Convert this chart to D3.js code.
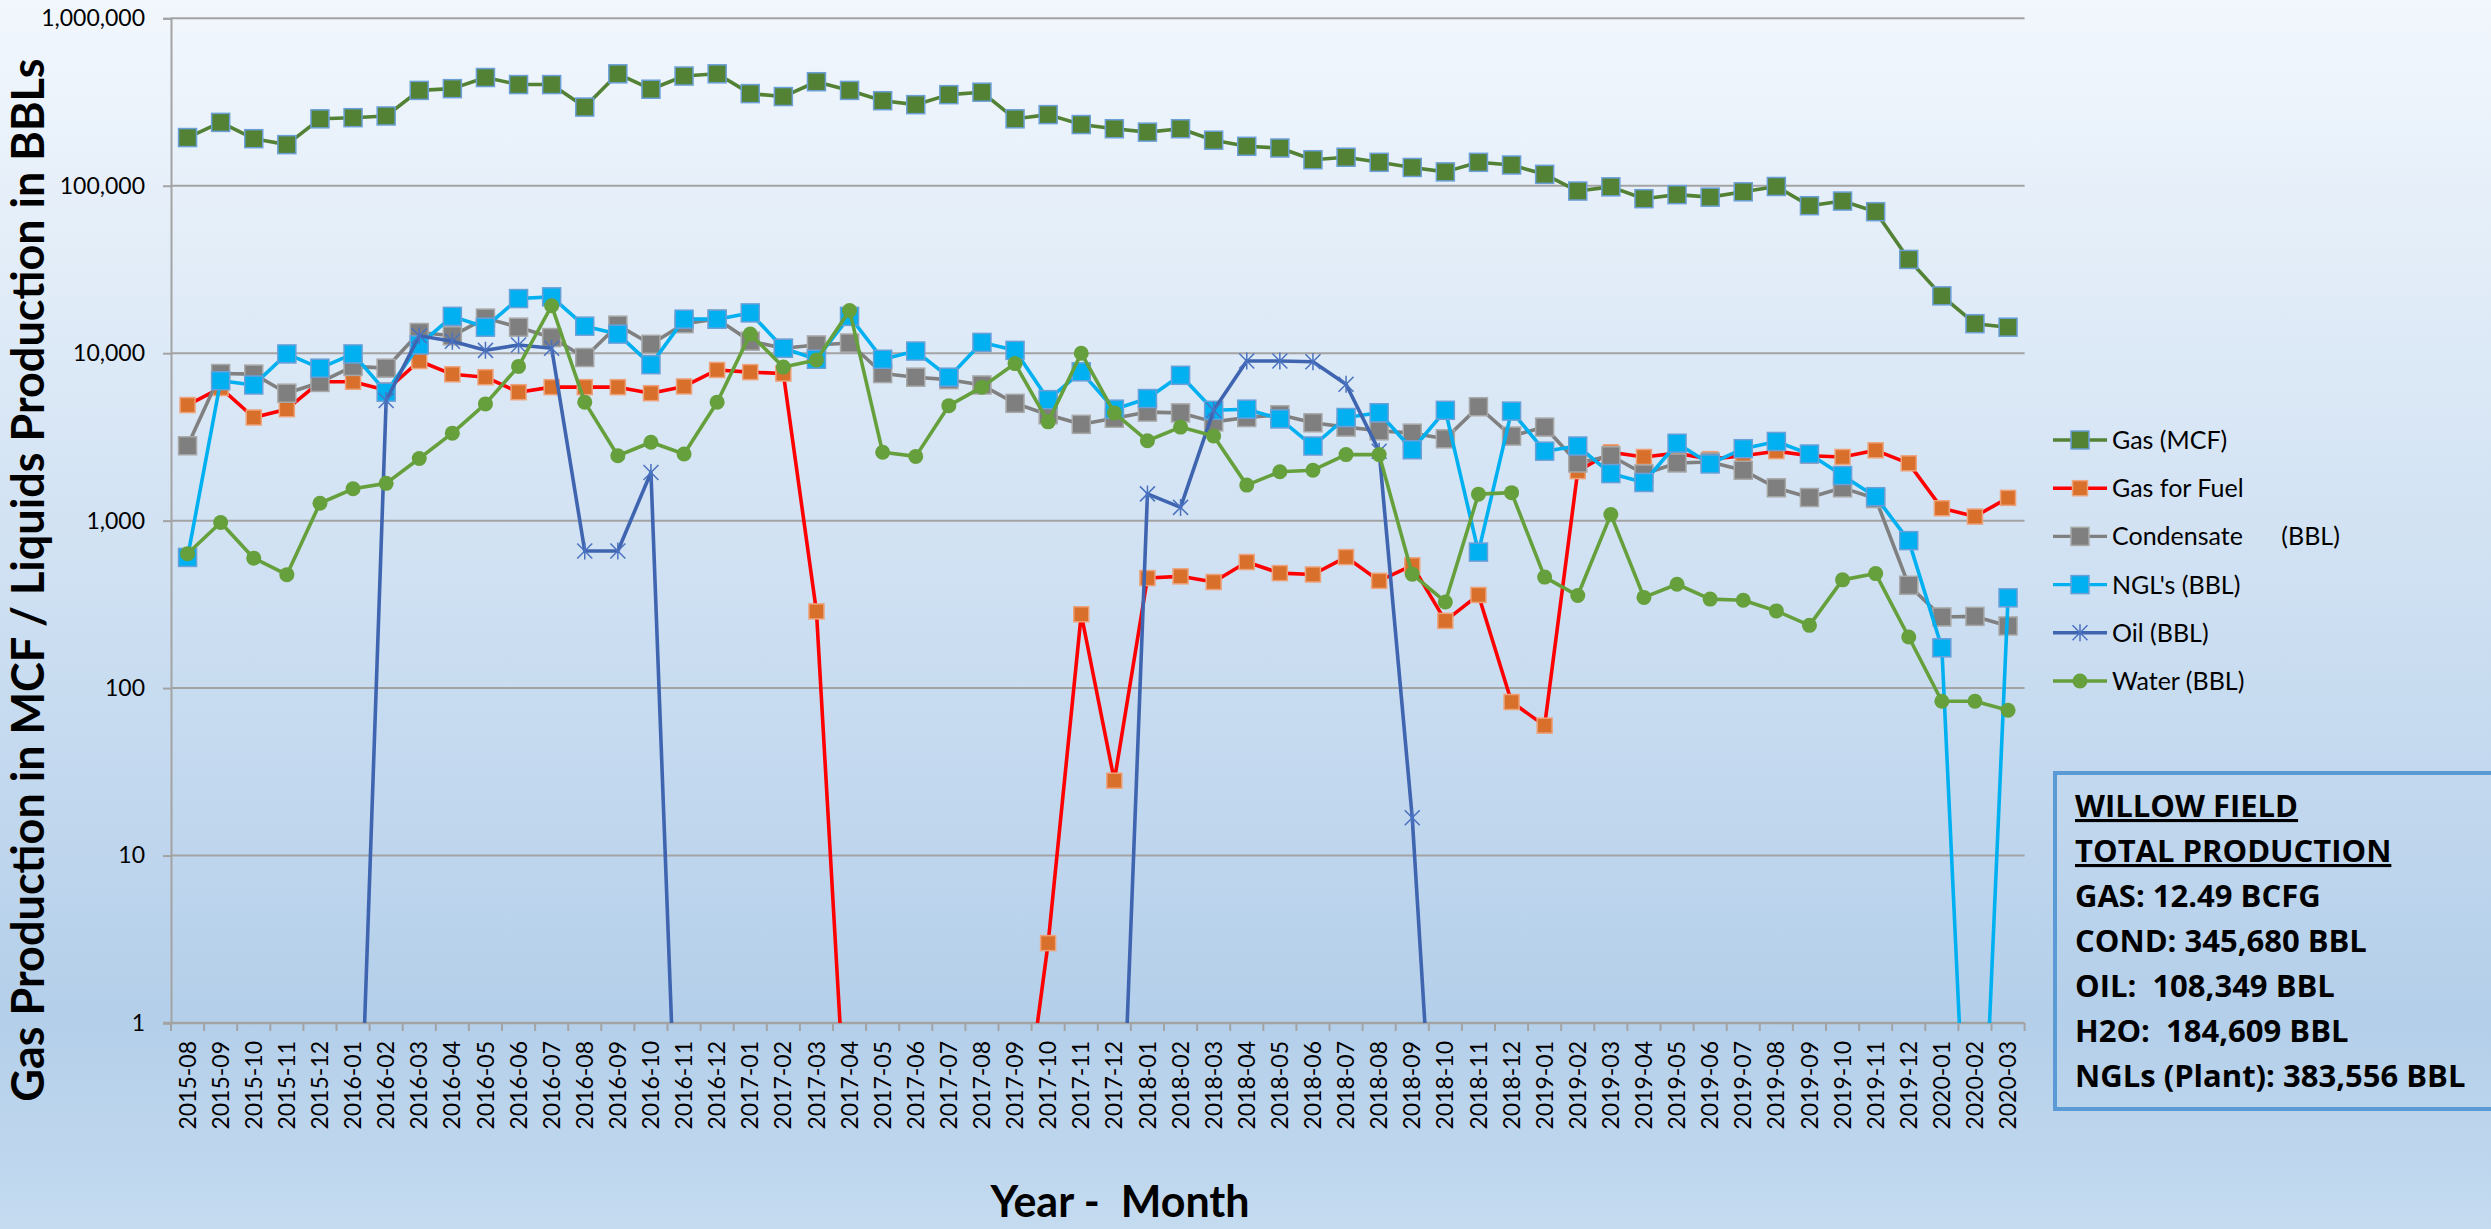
<!DOCTYPE html>
<html>
<head>
<meta charset="utf-8">
<script src="https://cdn.jsdelivr.net/npm/d3@7"></script>
<style>
html, body { margin: 0; padding: 0; }
svg { display: block; }
</style>
</head>
<body>
<svg id="chart" width="2491" height="1229"></svg>
<script>
// month labels on the x axis
const months = [
    '2015-08', '2015-09', '2015-10', '2015-11', '2015-12',
    '2016-01', '2016-02', '2016-03', '2016-04', '2016-05', '2016-06', '2016-07', '2016-08', '2016-09', '2016-10', '2016-11', '2016-12',
    '2017-01', '2017-02', '2017-03', '2017-04', '2017-05', '2017-06', '2017-07', '2017-08', '2017-09', '2017-10', '2017-11', '2017-12',
    '2018-01', '2018-02', '2018-03', '2018-04', '2018-05', '2018-06', '2018-07', '2018-08', '2018-09', '2018-10', '2018-11', '2018-12',
    '2019-01', '2019-02', '2019-03', '2019-04', '2019-05', '2019-06', '2019-07', '2019-08', '2019-09', '2019-10', '2019-11', '2019-12',
    '2020-01', '2020-02', '2020-03',
];

// monthly volumes (months with no production sit below the axis)
const gasMcf = [
    194000, 239000, 191000, 176000, 251000, 255000, 261000, 371000, 380000, 443000, 402000, 402000, 295000, 466000, 377000, 452000,
    466000, 355000, 341000, 418000, 371000, 322000, 305000, 350000, 362000, 251000, 266000, 232000, 219000, 209000, 219000, 187000,
    172000, 168000, 143000, 148000, 138000, 128600, 121000, 138000, 133000, 117000, 93000, 98500, 83700, 88500, 85500, 92000,
    99000, 76000, 81000, 70000, 36300, 22000, 15000, 14300,
];
const gasFuel = [
    4900, 6200, 4130, 4630, 6750, 6750, 6000, 8980, 7480, 7190, 5850, 6270, 6270, 6270, 5770, 6330,
    7940, 7710, 7560, 287, 0.1, 0.1, 0.1, 0.1, 0.1, 0.1, 3, 276, 28, 454, 465, 430,
    566, 486, 477, 606, 437, 541, 252, 360, 82.6, 59.7, 1977, 2560, 2400, 2530, 2330, 2440,
    2600, 2440, 2400, 2630, 2200, 1186, 1058, 1368,
];
const condensate = [
    2800, 7560, 7500, 5770, 6690, 8340, 8140, 13300, 12700, 16200, 14300, 12400, 9430, 14700, 11300, 15000,
    16000, 11800, 10700, 11200, 11500, 7560, 7190, 6950, 6460, 5020, 4290, 3760, 4090, 4450, 4400, 3890,
    4130, 4290, 3840, 3620, 3440, 3330, 3080, 4790, 3200, 3620, 2210, 2440, 1900, 2210, 2240, 2000,
    1570, 1375, 1570, 1355, 411, 266, 268, 235,
];
const ngl = [
    603, 6850, 6460, 9900, 8140, 9900, 5850, 11200, 16600, 14300, 21200, 21700, 14500, 13000, 8540, 15970,
    15970, 17400, 10700, 9200, 16600, 9200, 10300, 7190, 11600, 10400, 5280, 7740, 4630, 5360, 7380, 4560,
    4630, 4050, 2790, 4130, 4410, 2650, 4560, 649, 4510, 2600, 2790, 1910, 1690, 2900, 2180, 2690,
    2970, 2500, 1860, 1390, 760, 174, 0.01, 346,
];
const oil = [
    0.01, 0.01, 0.01, 0.01, 0.01, 0.01, 5220, 12700, 11800, 10400, 11200, 10700, 659, 659, 1940, 0.01,
    0.01, 0.01, 0.01, 0.01, 0.01, 0.01, 0.01, 0.01, 0.01, 0.01, 0.01, 0.01, 0.01, 1445, 1200, 4560,
    8980, 8980, 8900, 6520, 2600, 16.8, 0.01, 0.01, 0.01, 0.01, 0.01, 0.01, 0.01, 0.01, 0.01, 0.01,
    0.01, 0.01, 0.01, 0.01, 0.01, 0.01, 0.01, 0.01,
];
const water = [
    634, 975, 597, 476, 1270, 1550, 1670, 2350, 3330, 4980, 8340, 19200, 5100, 2440, 2940, 2500,
    5100, 13000, 8260, 9100, 18000, 2560, 2420, 4860, 6270, 8670, 3890, 10000, 4400, 3000, 3620, 3200,
    1630, 1960, 2000, 2480, 2480, 479, 327, 1440, 1470, 460, 357, 1087, 348, 417, 340, 335,
    289, 237, 443, 483, 202, 83.4, 83.4, 73.8,
];

const yTickValues = [1, 10, 100, 1000, 10000, 100000, 1000000];

const boxLines = [
    'WILLOW FIELD',
    'TOTAL PRODUCTION',
    'GAS: 12.49 BCFG',
    'COND: 345,680 BBL',
    'OIL:  108,349 BBL',
    'H2O:  184,609 BBL',
    'NGLs (Plant): 383,556 BBL',
];

const series = [
    { name: 'Gas (MCF)', values: gasMcf, line: '#548235', fill: '#548235', stroke: '#6a9fd8', marker: 'square', size: 18 },
    { name: 'Gas for Fuel', values: gasFuel, line: '#ff0000', fill: '#d8702c', stroke: '#eda27a', marker: 'square', size: 15 },
    { name: 'Condensate      (BBL)', values: condensate, line: '#808080', fill: '#7f7f7f', stroke: '#a8a8a8', marker: 'square', size: 18 },
    { name: "NGL's (BBL)", values: ngl, line: '#00b0f0', fill: '#00b0f0', stroke: '#6a9fd8', marker: 'square', size: 18 },
    { name: 'Oil (BBL)', values: oil, line: '#4065b0', fill: 'none', stroke: '#4a72c0', marker: 'star', size: 15 },
    { name: 'Water (BBL)', values: water, line: '#66a03c', fill: '#66a03c', stroke: '#66a03c', marker: 'circle', size: 15 },
];

const W = 2491;
const H = 1229;
const plot = { left: 171, right: 2024.6, top: 18.3, bottom: 1023 };

const svg = d3.select('#chart');
const defs = svg.append('defs');

const grad = defs.append('linearGradient')
    .attr('id', 'bg')
    .attr('x1', 0).attr('y1', 0)
    .attr('x2', 0).attr('y2', 1);
grad.append('stop').attr('offset', '0%').attr('stop-color', '#f2f7fd');
grad.append('stop').attr('offset', '83%').attr('stop-color', '#b4cfea');
grad.append('stop').attr('offset', '100%').attr('stop-color', '#c4dbf0');

defs.append('clipPath').attr('id', 'plotClip')
    .append('rect')
    .attr('x', plot.left)
    .attr('y', plot.top - 12)
    .attr('width', plot.right - plot.left + 12)
    .attr('height', plot.bottom - plot.top + 12);

svg.append('rect')
    .attr('width', W)
    .attr('height', H)
    .attr('fill', 'url(#bg)');

const x = d3.scaleBand().domain(months).range([plot.left, plot.right]).padding(0);
const y = d3.scaleLog().domain([1, 1e6]).range([plot.bottom, plot.top]);
const cx = m => x(m) + x.bandwidth() / 2;

// horizontal gridlines
svg.append('g')
    .selectAll('line')
    .data(yTickValues.slice(1))
    .join('line')
    .attr('x1', plot.left)
    .attr('x2', plot.right)
    .attr('y1', d => y(d))
    .attr('y2', d => y(d))
    .attr('stroke', '#a3a3a3')
    .attr('stroke-width', 2);

// y axis
const yAxis = svg.append('g')
    .attr('transform', `translate(${plot.left},0)`)
    .call(d3.axisLeft(y).tickValues(yTickValues).tickFormat(d3.format(',')).tickSize(8).tickPadding(18));
yAxis.select('.domain').attr('stroke', '#a3a3a3').attr('stroke-width', 2);
yAxis.selectAll('.tick line').attr('stroke', '#a3a3a3').attr('stroke-width', 2);
yAxis.selectAll('.tick text')
    .attr('font-family', 'Lato, sans-serif')
    .attr('font-size', 23)
    .attr('fill', '#000');

// x axis: labels at band centres, ticks on band edges
const xAxis = svg.append('g')
    .attr('transform', `translate(0,${plot.bottom})`)
    .call(d3.axisBottom(x).tickSize(0).tickPadding(0));
xAxis.select('.domain').remove();
xAxis.selectAll('.tick text')
    .attr('transform', 'rotate(-90)')
    .attr('x', -18)
    .attr('y', 0)
    .attr('dy', '0.35em')
    .attr('text-anchor', 'end')
    .attr('font-family', 'Lato, sans-serif')
    .attr('font-size', 23)
    .attr('fill', '#000');

const edges = months.map(m => x(m)).concat([plot.right]);
svg.append('g')
    .selectAll('line')
    .data(edges)
    .join('line')
    .attr('x1', d => d)
    .attr('x2', d => d)
    .attr('y1', plot.bottom)
    .attr('y2', plot.bottom + 8)
    .attr('stroke', '#a3a3a3')
    .attr('stroke-width', 2);
svg.append('line')
    .attr('x1', plot.left - 8)
    .attr('x2', plot.right)
    .attr('y1', plot.bottom)
    .attr('y2', plot.bottom)
    .attr('stroke', '#a3a3a3')
    .attr('stroke-width', 2.5);

function drawMarker(g, s) {
    const h = s.size / 2;
    if (s.marker === 'square') {
        g.append('rect')
            .attr('x', -h).attr('y', -h)
            .attr('width', s.size).attr('height', s.size)
            .attr('fill', s.fill)
            .attr('stroke', s.stroke)
            .attr('stroke-width', 1.5);
    } else if (s.marker === 'circle') {
        g.append('circle')
            .attr('r', h)
            .attr('fill', s.fill);
    } else {
        g.append('path')
            .attr('d', `M${-h},${-h}L${h},${h}M${-h},${h}L${h},${-h}M0,${-h - 1}L0,${h + 1}`)
            .attr('fill', 'none')
            .attr('stroke', s.stroke)
            .attr('stroke-width', 1.5);
    }
}

// series, drawn in order (line then markers)
const gSeries = svg.append('g').attr('clip-path', 'url(#plotClip)');
const line = d3.line()
    .x((d, i) => cx(months[i]))
    .y(d => y(d));

series.forEach(s => {
    gSeries.append('path')
        .attr('d', line(s.values))
        .attr('fill', 'none')
        .attr('stroke', s.line)
        .attr('stroke-width', 3.6)
        .attr('stroke-linejoin', 'round');
    s.values.forEach((v, i) => {
        if (v < 1) return;
        const g = gSeries.append('g')
            .attr('transform', `translate(${cx(months[i])},${y(v)})`);
        drawMarker(g, s);
    });
});

// legend
const legend = svg.append('g');
series.forEach((s, i) => {
    const row = legend.append('g')
        .attr('transform', `translate(2053,${440 + i * 48.2})`);
    row.append('line')
        .attr('x1', 0).attr('x2', 54)
        .attr('stroke', s.line)
        .attr('stroke-width', 3.4);
    drawMarker(row.append('g').attr('transform', 'translate(27,0)'), s);
    row.append('text')
        .attr('x', 59)
        .attr('dy', '0.36em')
        .attr('font-family', 'Lato, sans-serif')
        .attr('font-size', 25)
        .style('white-space', 'pre')
        .text(s.name);
});

// axis titles
svg.append('text')
    .attr('transform', 'translate(44,580) rotate(-90)')
    .attr('text-anchor', 'middle')
    .attr('font-family', 'Lato, sans-serif')
    .attr('font-weight', 'bold')
    .attr('font-size', 45)
    .text('Gas Production in MCF / Liquids Production in BBLs');

svg.append('text')
    .attr('x', 1120)
    .attr('y', 1217)
    .attr('text-anchor', 'middle')
    .attr('font-family', 'Lato, sans-serif')
    .attr('font-weight', 'bold')
    .attr('font-size', 43)
    .style('white-space', 'pre')
    .text('Year -  Month');

// totals box
svg.append('rect')
    .attr('x', 2055)
    .attr('y', 773)
    .attr('width', 480)
    .attr('height', 336)
    .attr('fill', 'none')
    .attr('stroke', '#5b9bd5')
    .attr('stroke-width', 4);

svg.append('g')
    .selectAll('text')
    .data(boxLines)
    .join('text')
    .attr('x', 2075)
    .attr('y', (d, i) => 817 + i * 45)
    .attr('font-family', '"Open Sans", sans-serif')
    .attr('font-weight', 'bold')
    .attr('font-size', 31)
    .attr('text-decoration', (d, i) => i < 2 ? 'underline' : null)
    .style('white-space', 'pre')
    .text(d => d);
</script>
</body>
</html>
